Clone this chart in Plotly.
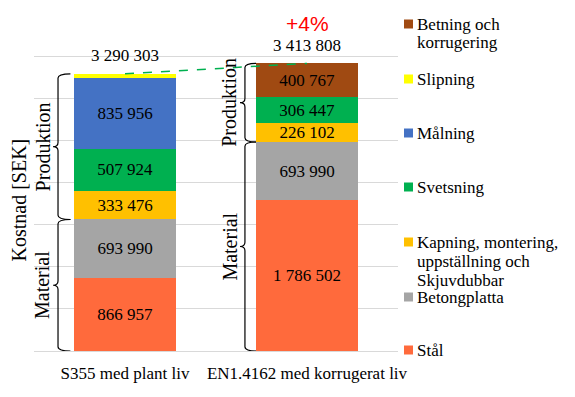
import plotly.graph_objects as go

# ---------------- data ----------------
categories = ["S355 med plant liv", "EN1.4162 med korrugerat liv"]
series_names = ["Stål", "Betongplatta",
                "Kapning, montering, uppställning och Skjuvdubbar",
                "Svetsning", "Målning", "Slipning", "Betning och korrugering"]
legend_lines = [["Stål"], ["Betongplatta"],
                ["Kapning, montering,", "uppställning och", "Skjuvdubbar"],
                ["Svetsning"], ["Målning"], ["Slipning"], ["Betning och", "korrugering"]]
stal = [866957, 1786502]
betongplatta = [693990, 693990]
kapning = [333476, 226102]
svetsning = [507924, 306447]
malning = [835956, 0]
slipning = [52000, 0]
betning = [0, 400767]
totals = [3290303, 3413808]
series_values = [stal, betongplatta, kapning, svetsning, malning, slipning, betning]
series_colors = ["#FF6A3C", "#A5A5A5", "#FFC000", "#00B050", "#4472C4", "#FFFF00", "#A04A12"]
show_value_labels = [True, True, True, True, True, False, True]
material_groups = [stal, betongplatta]

# ---------------- layout helpers ----------------
# the page body has an 8px margin, so the figure is drawn 8px smaller
OFF = 8
W, H = 575 - OFF, 397 - OFF
PL, PR, PT, PB = 34, 398, 14, 351          # plot area in page pixels
L, T = PL - OFF, PT - OFF
PW, PH = PR - PL, PB - PT
R, B = W - L - PW, H - T - PH
YMAX = 4000000
SERIF = "Liberation Serif"


def fx(px):
    return (px - PL) / PW


def fy(py):
    return (PB - py) / PH


def fmt(v):
    return f"{v:,}".replace(",", " ")


xpos = list(range(len(categories)))

fig = go.Figure()
for name, vals, col, show in zip(series_names, series_values, series_colors, show_value_labels):
    fig.add_trace(go.Bar(
        x=xpos, y=vals, name=name, marker=dict(color=col, line=dict(width=0)),
        width=0.555,
        text=[fmt(v) if (show and v > 0) else "" for v in vals],
        textposition="inside", insidetextanchor="middle", textangle=0,
        textfont=dict(family=SERIF, size=17, color="black"),
        showlegend=False,
    ))

annotations = []
shapes = []

# totals and percentage
for i, t in enumerate(totals):
    annotations.append(dict(x=xpos[i], y=t, xref="x", yref="y", text=fmt(t),
                            showarrow=False, xanchor="center", yanchor="middle", yshift=18,
                            font=dict(family=SERIF, size=17, color="black")))
pct = round((totals[1] / totals[0] - 1) * 100)
annotations.append(dict(x=xpos[1], y=totals[1], xref="x", yref="y", text=f"+{pct}%",
                        showarrow=False, xanchor="center", yanchor="middle", yshift=40,
                        font=dict(family="Liberation Sans", size=21, color="#FF0000")))

# dashed connector
shapes.append(dict(type="line", xref="x", yref="y", x0=xpos[0], y0=totals[0],
                   x1=xpos[1], y1=totals[1],
                   line=dict(color="#00B050", width=1.5, dash="dash")))

# braces
r = 50000


def brace(xc, xv_off, xt_off, xe_off, yb, yt):
    xv, xt, xe = xc + xv_off, xc + xt_off, xc + xe_off
    ym = (yb + yt) / 2
    p = (f"M {xe},{yt} Q {xv},{yt} {xv},{yt - r} L {xv},{ym + r} "
         f"Q {xv},{ym} {xt},{ym} Q {xv},{ym} {xv},{ym - r} "
         f"L {xv},{yb + r} Q {xv},{yb} {xe},{yb}")
    return dict(type="path", xref="x", yref="y", path=p,
                line=dict(color="black", width=1.2))


brace_offsets = [(-0.368, -0.395, -0.30), (-0.341, -0.368, -0.28)]
label_offsets = [-0.452, -0.428]
for i in range(len(categories)):
    mat_top = sum(s[i] for s in material_groups)
    vo, to, eo = brace_offsets[i]
    shapes.append(brace(xpos[i], vo, to, eo, 0, mat_top))
    shapes.append(brace(xpos[i], vo, to, eo, mat_top, totals[i]))
    annotations.append(dict(x=xpos[i] + label_offsets[i], y=mat_top / 2, xref="x", yref="y",
                            text="Material", textangle=-90, showarrow=False,
                            xanchor="center", yanchor="middle",
                            font=dict(family=SERIF, size=20, color="black")))
    annotations.append(dict(x=xpos[i] + label_offsets[i], y=(mat_top + totals[i]) / 2,
                            xref="x", yref="y", text="Produktion", textangle=-90,
                            xanchor="center", yanchor="middle",
                            showarrow=False, font=dict(family=SERIF, size=20, color="black")))

# y-axis title
annotations.append(dict(x=fx(18.5), y=fy(200), xref="paper", yref="paper",
                        text="Kostnad [SEK]", textangle=-90, showarrow=False,
                        xanchor="center", yanchor="middle",
                        font=dict(family=SERIF, size=20, color="black")))

# custom legend (top to bottom), page-pixel y of each square
legend_py = {"Betning och korrugering": 24, "Slipning": 79, "Målning": 133,
             "Svetsning": 187, "Kapning, montering, uppställning och Skjuvdubbar": 242,
             "Betongplatta": 297, "Stål": 350}
LINE_STEP = 19
for name, lines, col in zip(series_names, legend_lines, series_colors):
    py = legend_py[name]
    shapes.append(dict(type="rect", xref="paper", yref="paper",
                       x0=fx(404), x1=fx(413), y0=fy(py + 4.5), y1=fy(py - 4.5),
                       fillcolor=col, line=dict(width=0)))
    for k, line in enumerate(lines):
        annotations.append(dict(x=fx(415), y=fy(py + k * LINE_STEP), xref="paper", yref="paper",
                                text=line, showarrow=False, xanchor="left", yanchor="middle",
                                align="left",
                                font=dict(family=SERIF, size=17, color="black")))

fig.update_layout(
    width=W, height=H, barmode="stack",
    margin=dict(l=L, r=R, t=T, b=B, autoexpand=False),
    plot_bgcolor="white", paper_bgcolor="white",
    xaxis=dict(range=[-0.5, 1.5], tickvals=xpos, ticktext=categories, showgrid=False,
               zeroline=False, showline=False, ticks="", ticklabelstandoff=10,
               tickfont=dict(family=SERIF, size=17, color="black")),
    yaxis=dict(range=[0, YMAX], dtick=500000, showgrid=True, gridcolor="#D9D9D9",
               gridwidth=1, zeroline=True, zerolinecolor="#D9D9D9", zerolinewidth=1,
               showticklabels=False, ticks=""),
    uniformtext=dict(mode="show", minsize=17),
    annotations=annotations, shapes=shapes,
)

fig.write_html("out.html")
